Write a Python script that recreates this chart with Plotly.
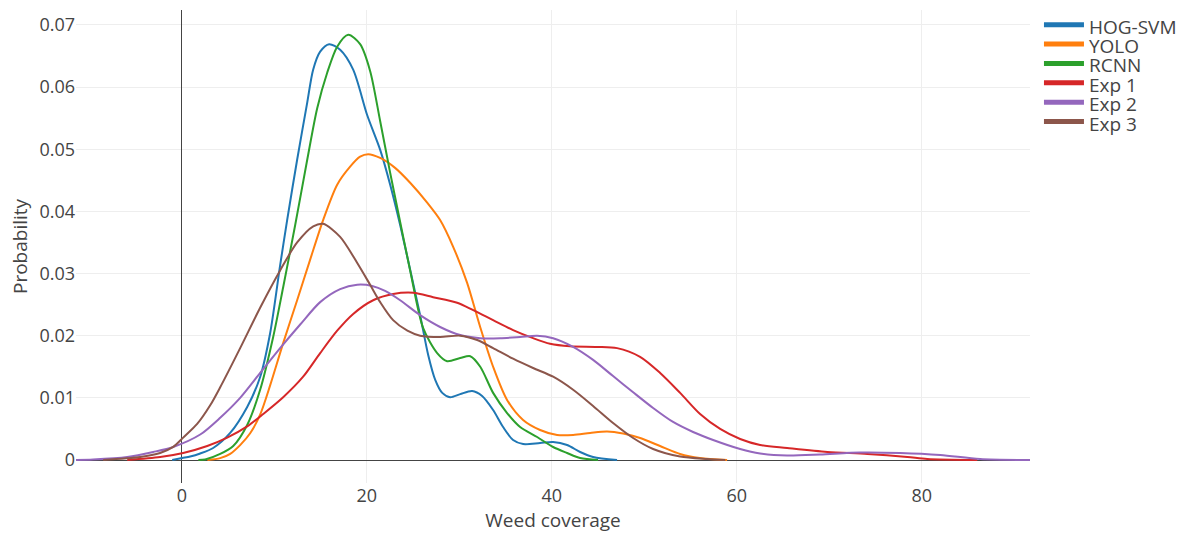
import plotly.graph_objects as go

# ---- data ----
hog_x = [-1.05, 0.03, 0.9, 1.98, 3.38, 5.22, 7.06, 8.46, 9.54, 10.6, 11.38, 12.46, 13.55, 14.19, 14.95,
         15.92, 17.11, 18.52, 20.03, 21.44, 22.52, 23.6, 24.68, 25.76, 26.63, 27.39, 28.15, 29.0, 30.09,
         31.38, 32.46, 33.65, 34.73, 35.81, 36.89, 38.73, 40.14, 41.65, 43.06, 44.46, 47.05]
hog_y = [0, 0.00032, 0.00056, 0.00105, 0.00193, 0.00435, 0.00853, 0.01336, 0.0204, 0.0311, 0.0386, 0.0483,
         0.0575, 0.0628, 0.0657, 0.0669, 0.066, 0.0628, 0.0555, 0.0499, 0.0443, 0.0378, 0.0306, 0.0233,
         0.0169, 0.0129, 0.0108, 0.0101, 0.0106, 0.0111, 0.0103, 0.00805, 0.00531, 0.00322, 0.00257,
         0.00274, 0.0029, 0.00241, 0.00129, 0.00048, 0]

yolo_x = [2.76, 4.14, 5.22, 6.3, 7.38, 8.46, 9.54, 10.95, 12.46, 13.86, 15.27, 16.79, 18.19, 19.27, 20.14,
          21.44, 23.05, 24.68, 26.52, 27.92, 29.33, 30.84, 32.25, 33.65, 35.16, 36.89, 38.73, 40.57, 42.3,
          44.14, 45.97, 47.71, 49.55, 51.7, 53.86, 56.0, 58.95]
yolo_y = [0, 0.0003, 0.001, 0.0024, 0.0043, 0.0073, 0.012, 0.0188, 0.0257, 0.0322, 0.0386, 0.0443, 0.0472,
          0.0488, 0.0492, 0.0486, 0.047, 0.0446, 0.0414, 0.0386, 0.0343, 0.0285, 0.0214, 0.015, 0.00966,
          0.00644, 0.00483, 0.00402, 0.00402, 0.00435, 0.00459, 0.00426, 0.00354, 0.00225, 0.00097,
          0.00032, 0]

rcnn_x = [1.78, 2.52, 4.14, 5.55, 7.06, 8.46, 9.87, 10.95, 12.25, 13.55, 14.63, 15.71, 16.79, 17.98, 19.27,
          20.35, 21.44, 22.52, 23.27, 24.68, 26.09, 27.6, 28.68, 30.09, 31.18, 32.26, 33.65, 35.16, 36.57,
          38.41, 40.14, 41.65, 43.06, 45.0]
rcnn_y = [0, 0.00008, 0.00097, 0.00225, 0.00563, 0.0113, 0.0198, 0.0278, 0.0378, 0.0483, 0.0566, 0.0623,
          0.0665, 0.0684, 0.0669, 0.0626, 0.0545, 0.0462, 0.0407, 0.0305, 0.0212, 0.0172, 0.0159, 0.0164,
          0.0167, 0.015, 0.0108, 0.00756, 0.00531, 0.0037, 0.00209, 0.00113, 0.00032, 0]

exp1_x = [-5.91, -2.35, 0.14, 2.74, 4.9, 7.06, 8.79, 10.95, 13.11, 14.95, 16.79, 18.52, 20.68, 22.84, 25.03,
          27.16, 29.76, 31.5, 33.65, 35.81, 37.97, 39.81, 41.97, 44.89, 47.05, 49.54, 51.71, 53.87, 56.03,
          58.2, 60.36, 62.52, 65.44, 69.79, 74.12, 78.44, 80.6, 86.0]
exp1_y = [0, 0.00048, 0.00113, 0.00225, 0.0036, 0.0054, 0.0074, 0.0101, 0.0134, 0.0172, 0.0208, 0.0235,
          0.0257, 0.0267, 0.0269, 0.0262, 0.0253, 0.0241, 0.0225, 0.0209, 0.0196, 0.0187, 0.0183, 0.0182,
          0.018, 0.0166, 0.014, 0.0108, 0.0074, 0.005, 0.00338, 0.00241, 0.00193, 0.00129, 0.00097,
          0.00048, 0.00016, 0]

exp2_x = [-11.53, -9.59, -5.91, -3.1, -0.94, 1.98, 4.14, 6.3, 8.46, 10.62, 12.79, 14.95, 17.11, 18.96,
          20.57, 21.97, 23.6, 25.76, 27.92, 30.09, 32.25, 34.41, 36.57, 38.41, 40.14, 42.3, 44.46, 46.62,
          48.79, 50.95, 53.11, 55.27, 57.44, 60.36, 62.52, 65.44, 69.0, 73.3, 77.67, 82.0, 86.3, 91.7]
exp2_y = [0, 0.00008, 0.00048, 0.00129, 0.0021, 0.0041, 0.0068, 0.0100, 0.0140, 0.0180, 0.0218, 0.0254,
          0.0275, 0.0282, 0.028, 0.0272, 0.0257, 0.0233, 0.0214, 0.0201, 0.0196, 0.0196, 0.0198,
          0.02, 0.0196, 0.0182, 0.0161, 0.0135, 0.0109, 0.00837, 0.00612, 0.00451, 0.00322, 0.00177,
          0.00105, 0.00072, 0.00089, 0.00121, 0.00113, 0.0008, 0.00016, 0]

exp3_x = [-8.51, -4.51, -2.35, -0.94, 0.14, 1.65, 3.06, 4.14, 6.3, 8.46, 10.62, 12.46, 14.2, 15.27, 17.11,
          18.96, 20.35, 21.44, 22.84, 24.38, 25.76, 27.92, 30.09, 31.93, 33.65, 35.81, 37.97, 40.14, 42.3,
          44.46, 46.62, 48.79, 50.95, 53.87, 56.8, 58.75]
exp3_y = [0, 0.00048, 0.00113, 0.0021, 0.0036, 0.0058, 0.0088, 0.0117, 0.018, 0.0245, 0.0305, 0.035,
          0.0376, 0.038, 0.0359, 0.0317, 0.0282, 0.0254, 0.0225, 0.0208, 0.02, 0.0198, 0.02, 0.0193, 0.018,
          0.0163, 0.0148, 0.0134, 0.0113, 0.00869, 0.00595, 0.00354, 0.00177, 0.00056, 0.00016, 0]

names = ["HOG-SVM", "YOLO", "RCNN", "Exp 1", "Exp 2", "Exp 3"]
colors = ["#1f77b4", "#ff7f0e", "#2ca02c", "#d62728", "#9467bd", "#8c564b"]
series = [(hog_x, hog_y), (yolo_x, yolo_y), (rcnn_x, rcnn_y),
          (exp1_x, exp1_y), (exp2_x, exp2_y), (exp3_x, exp3_y)]

fig = go.Figure()
for name, color, (xs, ys) in zip(names, colors, series):
    fig.add_trace(go.Scatter(
        x=xs, y=ys, mode="lines",
        name='<span style="font-size:19px;baseline-shift:-4px">' + name + '</span>',
        line=dict(color=color, width=2, shape="spline", smoothing=0.8)))

fig.update_layout(
    template="none",
    width=1188, height=538,
    margin=dict(l=76, r=158, t=10, b=55, autoexpand=False),
    paper_bgcolor="white", plot_bgcolor="white",
    font=dict(family="Open Sans, verdana, arial, sans-serif", size=18, color="#444"),
    legend=dict(x=1.0094, y=1.0, xanchor="left", yanchor="top", font=dict(size=12.6),
                itemsizing="constant", itemwidth=40),
    xaxis=dict(title=dict(text="Weed coverage", font=dict(size=19), standoff=2),
               range=[-11.45, 91.7], dtick=20,
               showgrid=True, gridcolor="#eee", zeroline=True, zerolinecolor="#444",
               zerolinewidth=1, showline=False, ticks=""),
    yaxis=dict(title=dict(text="Probability", font=dict(size=19), standoff=6),
               range=[-0.0037, 0.0724], dtick=0.01,
               showgrid=True, gridcolor="#eee", zeroline=True, zerolinecolor="#444",
               zerolinewidth=1, showline=False, ticks=""),
)

fig.write_html("out.html")
